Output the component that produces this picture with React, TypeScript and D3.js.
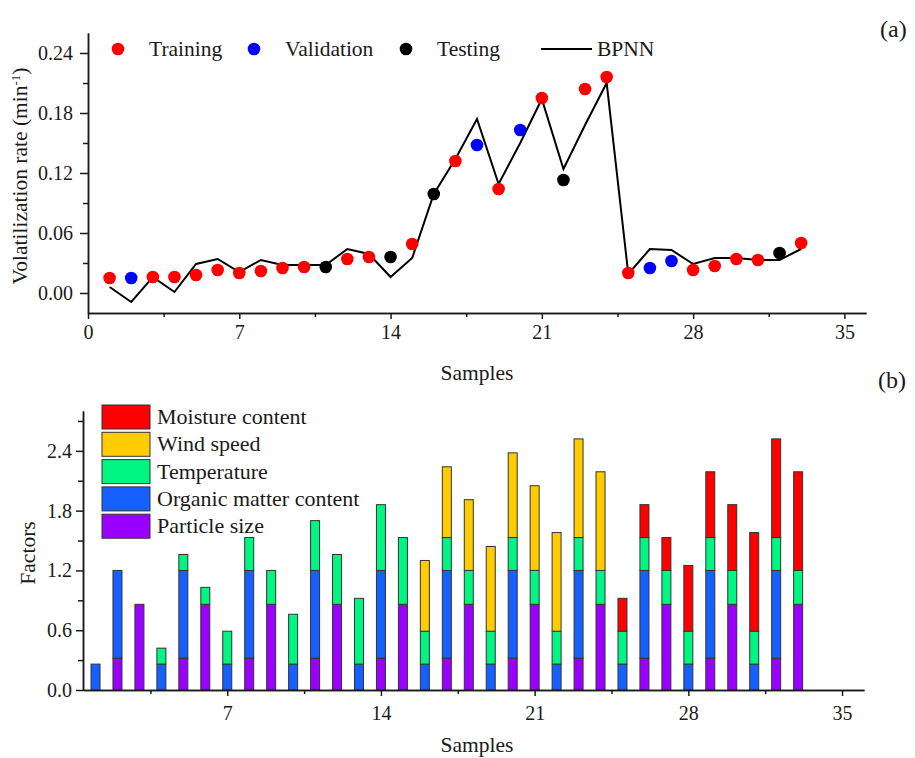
import React, { useRef, useEffect } from 'react';
import * as d3 from 'd3';

// sample numbers (x)
const samples = [1, 2, 3, 4, 5, 6, 7, 8, 9, 10, 11, 12, 13, 14, 15, 16, 17, 18, 19, 20, 21, 22, 23, 24, 25, 26, 27, 28, 29, 30, 31, 32, 33];

// (a) measured volatilization rate and which set each sample is in
const measured = [0.015, 0.015, 0.016, 0.016, 0.018, 0.023, 0.020, 0.022, 0.025, 0.026, 0.026, 0.034, 0.036, 0.036, 0.049, 0.099, 0.132, 0.148, 0.104, 0.163, 0.195, 0.113, 0.204, 0.216, 0.020, 0.025, 0.032, 0.023, 0.027, 0.034, 0.033, 0.040, 0.050];
const dataSet = ['Training', 'Validation', 'Training', 'Training', 'Training', 'Training', 'Training', 'Training', 'Training', 'Training', 'Testing', 'Training', 'Training', 'Testing', 'Training', 'Testing', 'Training', 'Validation', 'Training', 'Validation', 'Training', 'Testing', 'Training', 'Training', 'Training', 'Validation', 'Validation', 'Training', 'Training', 'Training', 'Training', 'Testing', 'Training'];
const bpnn = [0.006, -0.009, 0.016, 0.001, 0.029, 0.034, 0.021, 0.033, 0.028, 0.028, 0.028, 0.044, 0.039, 0.016, 0.035, 0.099, 0.134, 0.174, 0.109, 0.150, 0.194, 0.124, 0.168, 0.210, 0.019, 0.044, 0.043, 0.029, 0.035, 0.035, 0.033, 0.033, 0.044];

// (b) stacked factor levels
const particleSize = [0, 0.32, 0.86, 0, 0.32, 0.86, 0, 0.32, 0.86, 0, 0.32, 0.86, 0, 0.32, 0.86, 0, 0.32, 0.86, 0, 0.32, 0.86, 0, 0.32, 0.86, 0, 0.32, 0.86, 0, 0.32, 0.86, 0, 0.32, 0.86];
const organicMatter = [0.26, 0.88, 0, 0.26, 0.88, 0, 0.26, 0.88, 0, 0.26, 0.88, 0, 0.26, 0.88, 0, 0.26, 0.88, 0, 0.26, 0.88, 0, 0.26, 0.88, 0, 0.26, 0.88, 0, 0.26, 0.88, 0, 0.26, 0.88, 0];
const temperature = [0, 0, 0, 0.16, 0.16, 0.17, 0.33, 0.33, 0.34, 0.50, 0.50, 0.50, 0.66, 0.66, 0.67, 0.33, 0.33, 0.34, 0.33, 0.33, 0.34, 0.33, 0.33, 0.34, 0.33, 0.33, 0.34, 0.33, 0.33, 0.34, 0.33, 0.33, 0.34];
const windSpeed = [0, 0, 0, 0, 0, 0, 0, 0, 0, 0, 0, 0, 0, 0, 0, 0.71, 0.71, 0.71, 0.85, 0.85, 0.85, 0.99, 0.99, 0.99, 0, 0, 0, 0, 0, 0, 0, 0, 0];
const moisture = [0, 0, 0, 0, 0, 0, 0, 0, 0, 0, 0, 0, 0, 0, 0, 0, 0, 0, 0, 0, 0, 0, 0, 0, 0.33, 0.33, 0.33, 0.66, 0.66, 0.66, 0.99, 0.99, 0.99];

const factorKeys = ['particle', 'organic', 'temperature', 'wind', 'moisture'];
const factorNames = ['Particle size', 'Organic matter content', 'Temperature', 'Wind speed', 'Moisture content'];
const factorColors = ['#9900ff', '#1560ff', '#00f582', '#ffcc00', '#ff0000'];

const setNames = ['Training', 'Validation', 'Testing'];
const setColors = ['#ff0000', '#0000ff', '#000000'];

const topXTicks = [0, 7, 14, 21, 28, 35];
const topXMinor = [3.5, 10.5, 17.5, 24.5, 31.5];
const topYTicks = [0, 0.06, 0.12, 0.18, 0.24];
const topYMinor = [0.03, 0.09, 0.15, 0.21];
const botXTicks = [7, 14, 21, 28, 35];
const botXMinor = [3.5, 10.5, 17.5, 24.5, 31.5];
const botYTicks = [0, 0.6, 1.2, 1.8, 2.4];
const botYMinor = [0.3, 0.9, 1.5, 2.1, 2.7];

const FONT = '"Liberation Serif", "Times New Roman", serif';
const INK = '#1a1a1a';

const App = () => {
  const axRef = useRef<SVGGElement>(null);

  const xTop = d3.scaleLinear().domain([0, 36]).range([88, 866]);
  const yTop = d3.scaleLinear().domain([-0.02, 0.26]).range([313, 33]);
  const xBot = d3.scaleLinear().domain([0.43, 36]).range([83, 864]);
  const yBot = d3.scaleLinear().domain([0, 2.8]).range([690, 411]);

  const color = d3.scaleOrdinal<string, string>().domain(setNames).range(setColors);

  const table = samples.map((s, i) => ({
    sample: s,
    particle: particleSize[i],
    organic: organicMatter[i],
    temperature: temperature[i],
    wind: windSpeed[i],
    moisture: moisture[i],
  }));
  const stacked = d3.stack<any>().keys(factorKeys)(table);
  const barW = xBot(0.41) - xBot(0);

  const line = d3.line<number>()
    .x((_, i) => xTop(samples[i]))
    .y(d => yTop(d));

  useEffect(() => {
    const g = d3.select(axRef.current);
    g.selectAll('*').remove();

    const style = (sel: any) => {
      sel.selectAll('path').attr('stroke', INK).attr('stroke-width', 1.5);
      sel.selectAll('line').attr('stroke', INK).attr('stroke-width', 1.5);
      sel.selectAll('text').attr('fill', INK).attr('font-family', FONT).attr('font-size', 20);
    };

    // top chart axes
    g.append('g').attr('transform', 'translate(0,313)')
      .call(d3.axisBottom(xTop).tickValues(topXTicks).tickSize(6).tickPadding(6).tickSizeOuter(0).tickFormat(d3.format('d')))
      .call(style);
    g.append('g').attr('transform', 'translate(0,313)')
      .call(d3.axisBottom(xTop).tickValues(topXMinor).tickSize(4).tickSizeOuter(0).tickFormat(() => ''))
      .call(style);
    g.append('g').attr('transform', 'translate(88,0)')
      .call(d3.axisLeft(yTop).tickValues(topYTicks).tickSize(8).tickPadding(7).tickSizeOuter(0).tickFormat(d3.format('.2f')))
      .call(style);
    g.append('g').attr('transform', 'translate(88,0)')
      .call(d3.axisLeft(yTop).tickValues(topYMinor).tickSize(5).tickSizeOuter(0).tickFormat(() => ''))
      .call(style);

    // bottom chart axes
    g.append('g').attr('transform', 'translate(0,690)')
      .call(d3.axisBottom(xBot).tickValues(botXTicks).tickSize(6).tickPadding(10).tickSizeOuter(0).tickFormat(d3.format('d')))
      .call(style);
    g.append('g').attr('transform', 'translate(0,690)')
      .call(d3.axisBottom(xBot).tickValues(botXMinor).tickSize(4).tickSizeOuter(0).tickFormat(() => ''))
      .call(style);
    g.append('g').attr('transform', 'translate(83,0)')
      .call(d3.axisLeft(yBot).tickValues(botYTicks).tickSize(7).tickPadding(4).tickSizeOuter(0).tickFormat(d3.format('.1f')))
      .call(style);
    g.append('g').attr('transform', 'translate(83,0)')
      .call(d3.axisLeft(yBot).tickValues(botYMinor).tickSize(5).tickSizeOuter(0).tickFormat(() => ''))
      .call(style);
  }, []);

  const legendTop = [
    { name: 'Training', cx: 118, tx: 149 },
    { name: 'Validation', cx: 254, tx: 285 },
    { name: 'Testing', cx: 406, tx: 437 },
  ];

  return (
    <svg width={915} height={758} style={{ position: 'absolute', left: 0, top: 0, background: '#fff' }}
      fontFamily={FONT}>
      <rect width={915} height={758} fill="#fff" />

      {/* (a) */}
      <path d={line(bpnn) || ''} fill="none" stroke="#000" strokeWidth={2} strokeLinejoin="miter" />
      {samples.map((s, i) => (
        <circle key={s} cx={xTop(s)} cy={yTop(measured[i])} r={6.3} fill={color(dataSet[i])} />
      ))}

      {legendTop.map(l => (
        <g key={l.name}>
          <circle cx={l.cx} cy={49} r={6.3} fill={color(l.name)} />
          <text x={l.tx} y={56} fontSize={21.5} fill={INK}>{l.name}</text>
        </g>
      ))}
      <line x1={541} x2={592} y1={49} y2={49} stroke="#000" strokeWidth={2} />
      <text x={597} y={56} fontSize={21.5} fill={INK}>BPNN</text>

      <text x={477} y={380} textAnchor="middle" fontSize={21.5} fill={INK}>Samples</text>
      <text transform="translate(27,176) rotate(-90)" textAnchor="middle" fontSize={21.5} fill={INK}>
        Volatilization rate (min<tspan baselineShift="super" fontSize={13}>-1</tspan>)
      </text>
      <text x={880} y={37} fontSize={24} fill={INK}>(a)</text>

      {/* (b) */}
      {stacked.map((layer, k) => (
        <g key={layer.key} fill={factorColors[k]}>
          {layer.filter(d => d[1] - d[0] > 0).map(d => (
            <rect key={d.data.sample}
              x={xBot(d.data.sample) - barW / 2}
              y={yBot(d[1])}
              width={barW}
              height={yBot(d[0]) - yBot(d[1])}
              stroke="#333" strokeWidth={1} />
          ))}
        </g>
      ))}

      {factorNames.slice().reverse().map((name, i) => (
        <g key={name} transform={`translate(102,${405 + i * 27.3})`}>
          <rect width={48} height={24} fill={factorColors[factorNames.length - 1 - i]} stroke="#333" strokeWidth={1} />
          <text x={55} y={19} fontSize={22} fill={INK}>{name}</text>
        </g>
      ))}

      <text x={477} y={752} textAnchor="middle" fontSize={21.5} fill={INK}>Samples</text>
      <text transform="translate(35,553) rotate(-90)" textAnchor="middle" fontSize={21.5} fill={INK}>Factors</text>
      <text x={878} y={388} fontSize={24} fill={INK}>(b)</text>

      <g ref={axRef} />
    </svg>
  );
};

export default App;
